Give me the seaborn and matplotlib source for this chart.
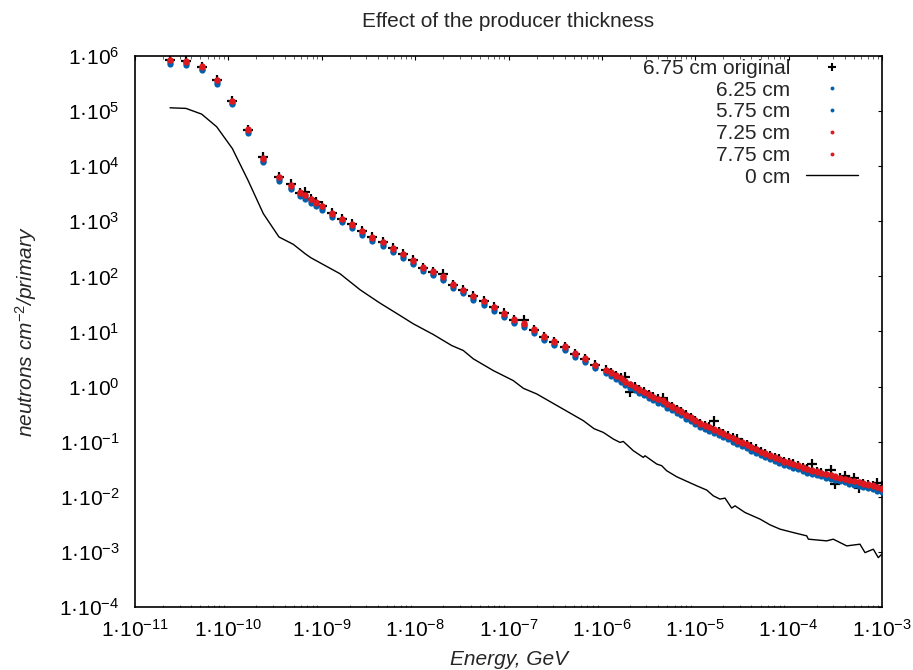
import numpy as np
import pandas as pd
import matplotlib
matplotlib.use("Agg")
import matplotlib.pyplot as plt
import seaborn as sns
from matplotlib.lines import Line2D
from matplotlib.ticker import FixedLocator, NullFormatter, FixedFormatter

sns.set_style("white")
plt.rcParams["font.family"] = ["Liberation Sans", "DejaVu Sans"]
plt.rcParams["mathtext.fontset"] = "custom"
plt.rcParams["mathtext.rm"] = "Liberation Sans"
plt.rcParams["mathtext.it"] = "Liberation Sans:italic"
plt.rcParams["mathtext.bf"] = "Liberation Sans:bold"

# ---------------- data (log10 of values) ----------------
log_energy = [
    -10.625, -10.454, -10.286, -10.125, -9.958, -9.790, -9.626, -9.458, -9.329, -9.233,
    -9.179, -9.118, -9.062, -9.001, -8.893, -8.780, -8.673, -8.566, -8.459, -8.347,
    -8.240, -8.133, -8.026, -7.919, -7.812, -7.705, -7.591, -7.484, -7.377, -7.262,
    -7.155, -7.048, -6.938, -6.831, -6.724, -6.617, -6.509, -6.395, -6.288, -6.181,
    -6.070, -5.959,
    -5.90, -5.85, -5.80, -5.75, -5.70, -5.65, -5.60, -5.55, -5.50, -5.45,
    -5.40, -5.35, -5.30, -5.25, -5.20, -5.15, -5.10, -5.05, -5.00, -4.95,
    -4.90, -4.85, -4.80, -4.75, -4.70, -4.65, -4.60, -4.55, -4.50, -4.45,
    -4.40, -4.35, -4.30, -4.25, -4.20, -4.15, -4.10, -4.05, -4.00, -3.95,
    -3.90, -3.85, -3.80, -3.75, -3.70, -3.65, -3.60, -3.55, -3.50, -3.45,
    -3.40, -3.35, -3.30, -3.25, -3.20, -3.15, -3.10, -3.05, -3.00,
]

log_flux_675_original = [
    5.93, 5.91, 5.80, 5.57, 5.19, 4.66, 4.17, 3.80, 3.68, 3.52,
    3.53, 3.40, 3.35, 3.27, 3.15, 3.04, 2.95, 2.82, 2.71, 2.62,
    2.51, 2.40, 2.29, 2.16, 2.08, 2.04, 1.85, 1.75, 1.64, 1.56,
    1.44, 1.33, 1.21, 1.21, 1.03, 0.90, 0.81, 0.72, 0.60, 0.50,
    0.40, 0.30,
    0.25, 0.20, 0.15, 0.17, -0.09, -0.01, -0.06, -0.10, -0.15, -0.19,
    -0.23, -0.21, -0.32, -0.37, -0.42, -0.46, -0.52, -0.57, -0.62, -0.67,
    -0.71, -0.74, -0.63, -0.82, -0.86, -0.90, -0.94, -0.95, -1.02, -1.06,
    -1.10, -1.14, -1.19, -1.22, -1.26, -1.29, -1.32, -1.36, -1.38, -1.41,
    -1.44, -1.47, -1.50, -1.41, -1.55, -1.57, -1.59, -1.52, -1.76, -1.66,
    -1.63, -1.70, -1.66, -1.84, -1.76, -1.78, -1.80, -1.75, -1.80,
]

log_flux_625 = [
    5.89, 5.87, 5.77, 5.53, 5.15, 4.63, 4.10, 3.77, 3.61, 3.49,
    3.44, 3.37, 3.31, 3.24, 3.11, 3.01, 2.91, 2.79, 2.67, 2.59,
    2.47, 2.37, 2.25, 2.13, 2.05, 1.96, 1.82, 1.72, 1.61, 1.52,
    1.41, 1.29, 1.18, 1.11, 1.00, 0.87, 0.78, 0.69, 0.57, 0.47,
    0.36, 0.27,
    0.22, 0.17, 0.12, 0.06, 0.01, -0.04, -0.09, -0.13, -0.18, -0.22,
    -0.26, -0.29, -0.35, -0.40, -0.45, -0.49, -0.55, -0.60, -0.65, -0.70,
    -0.74, -0.77, -0.81, -0.85, -0.89, -0.93, -0.97, -1.01, -1.05, -1.09,
    -1.13, -1.17, -1.22, -1.25, -1.29, -1.32, -1.35, -1.39, -1.41, -1.44,
    -1.47, -1.50, -1.53, -1.56, -1.58, -1.60, -1.62, -1.64, -1.67, -1.69,
    -1.71, -1.73, -1.75, -1.77, -1.79, -1.81, -1.83, -1.86, -1.88,
]

log_flux_575 = [
    5.86, 5.84, 5.74, 5.50, 5.12, 4.60, 4.07, 3.74, 3.58, 3.46,
    3.41, 3.34, 3.28, 3.21, 3.08, 2.98, 2.88, 2.76, 2.64, 2.56,
    2.44, 2.34, 2.22, 2.10, 2.02, 1.93, 1.79, 1.69, 1.58, 1.49,
    1.38, 1.26, 1.15, 1.08, 0.97, 0.84, 0.75, 0.66, 0.54, 0.44,
    0.33, 0.24,
    0.19, 0.14, 0.09, 0.03, -0.02, -0.07, -0.12, -0.16, -0.21, -0.25,
    -0.29, -0.32, -0.38, -0.43, -0.48, -0.52, -0.58, -0.63, -0.68, -0.73,
    -0.77, -0.80, -0.84, -0.88, -0.92, -0.96, -1.00, -1.04, -1.08, -1.12,
    -1.16, -1.20, -1.25, -1.28, -1.32, -1.35, -1.38, -1.42, -1.44, -1.47,
    -1.50, -1.53, -1.56, -1.59, -1.61, -1.63, -1.65, -1.67, -1.70, -1.72,
    -1.74, -1.76, -1.78, -1.80, -1.82, -1.84, -1.86, -1.89, -1.91,
]

log_flux_725 = [
    5.92, 5.90, 5.80, 5.56, 5.18, 4.66, 4.13, 3.80, 3.64, 3.52,
    3.47, 3.40, 3.34, 3.27, 3.14, 3.04, 2.94, 2.82, 2.70, 2.62,
    2.50, 2.40, 2.28, 2.16, 2.08, 1.99, 1.85, 1.75, 1.64, 1.55,
    1.44, 1.32, 1.21, 1.14, 1.03, 0.90, 0.81, 0.72, 0.60, 0.50,
    0.39, 0.30,
    0.25, 0.20, 0.15, 0.09, 0.04, -0.01, -0.06, -0.10, -0.15, -0.19,
    -0.23, -0.26, -0.32, -0.37, -0.42, -0.46, -0.52, -0.57, -0.62, -0.67,
    -0.71, -0.74, -0.78, -0.82, -0.86, -0.90, -0.94, -0.98, -1.02, -1.06,
    -1.10, -1.14, -1.19, -1.22, -1.26, -1.29, -1.32, -1.36, -1.38, -1.41,
    -1.44, -1.47, -1.50, -1.53, -1.55, -1.57, -1.59, -1.61, -1.64, -1.66,
    -1.68, -1.70, -1.72, -1.74, -1.76, -1.78, -1.80, -1.83, -1.85,
]

log_flux_775 = [
    5.93, 5.91, 5.81, 5.57, 5.19, 4.67, 4.14, 3.81, 3.65, 3.53,
    3.48, 3.41, 3.35, 3.28, 3.15, 3.05, 2.95, 2.83, 2.71, 2.63,
    2.51, 2.41, 2.29, 2.17, 2.09, 2.00, 1.86, 1.76, 1.65, 1.56,
    1.45, 1.33, 1.22, 1.15, 1.04, 0.91, 0.82, 0.73, 0.61, 0.51,
    0.40, 0.31,
    0.26, 0.21, 0.16, 0.10, 0.05, 0.00, -0.05, -0.09, -0.14, -0.18,
    -0.22, -0.25, -0.31, -0.36, -0.41, -0.45, -0.51, -0.56, -0.61, -0.66,
    -0.70, -0.73, -0.77, -0.81, -0.85, -0.89, -0.93, -0.97, -1.01, -1.05,
    -1.09, -1.13, -1.18, -1.21, -1.25, -1.28, -1.31, -1.35, -1.37, -1.40,
    -1.43, -1.46, -1.49, -1.52, -1.54, -1.56, -1.58, -1.60, -1.63, -1.65,
    -1.67, -1.69, -1.71, -1.73, -1.75, -1.77, -1.79, -1.82, -1.84,
]

log_energy_0cm = [
    -10.625, -10.454, -10.286, -10.125, -9.958, -9.790, -9.626, -9.458, -9.305, -9.179,
    -9.118, -9.001, -8.805, -8.590, -8.483, -8.376, -8.162, -8.020, -7.805, -7.608,
    -7.484, -7.377, -7.163, -6.949, -6.841, -6.698, -6.448, -6.199, -6.084, -5.985,
    -5.878, -5.806, -5.771, -5.663, -5.556, -5.538, -5.413, -5.359, -5.306, -5.199,
    -4.985, -4.877, -4.807, -4.735, -4.681, -4.610, -4.574, -4.467, -4.306, -4.199,
    -4.092, -3.950, -3.806, -3.789, -3.592, -3.522, -3.378, -3.236, -3.182, -3.093,
    -3.040, -3.003,
]
log_flux_0cm = [
    5.060, 5.049, 4.945, 4.715, 4.322, 3.745, 3.140, 2.715, 2.582, 2.413,
    2.340, 2.231, 2.049, 1.758, 1.636, 1.515, 1.291, 1.140, 0.945, 0.745,
    0.655, 0.504, 0.291, 0.109, -0.031, -0.133, -0.376, -0.618, -0.764, -0.831,
    -0.951, -1.013, -0.995, -1.164, -1.285, -1.255, -1.405, -1.436, -1.527, -1.636,
    -1.800, -1.878, -1.982, -2.042, -2.024, -2.205, -2.164, -2.285, -2.405, -2.509,
    -2.587, -2.649, -2.709, -2.769, -2.800, -2.769, -2.891, -2.860, -3.013, -2.951,
    -3.104, -3.042,
]

series_labels = ["6.75 cm original", "6.25 cm", "5.75 cm", "7.25 cm", "7.75 cm", "0 cm"]
x_tick_exponents = [-11, -10, -9, -8, -7, -6, -5, -4, -3]
y_tick_exponents = [-4, -3, -2, -1, 0, 1, 2, 3, 4, 5, 6]

BLUE = "#0060ad"
RED = "#dd181f"
FS = 15

df = pd.DataFrame({
    "energy": 10.0 ** np.array(log_energy),
    "orig": 10.0 ** np.array(log_flux_675_original),
    "t625": 10.0 ** np.array(log_flux_625),
    "t575": 10.0 ** np.array(log_flux_575),
    "t725": 10.0 ** np.array(log_flux_725),
    "t775": 10.0 ** np.array(log_flux_775),
})
df0 = pd.DataFrame({"energy": 10.0 ** np.array(log_energy_0cm),
                    "flux": 10.0 ** np.array(log_flux_0cm)})

fig = plt.figure(figsize=(9.13, 6.70), dpi=100)
ax = fig.add_axes([135 / 913, 1 - 607 / 670, 747 / 913, 551 / 670])

sns.scatterplot(data=df, x="energy", y="orig", marker="+", color="black",
                s=60, linewidth=1.6, ax=ax, legend=False, zorder=3)
for col, c in [("t625", BLUE), ("t575", BLUE), ("t725", RED), ("t775", RED)]:
    sns.scatterplot(data=df, x="energy", y=col, marker="o", color=c,
                    s=20, linewidth=0, ax=ax, legend=False, zorder=3)
sns.lineplot(data=df0, x="energy", y="flux", color="black", linewidth=1.0,
             sort=False, estimator=None, ax=ax, legend=False, zorder=4)

ax.set_xscale("log")
ax.set_yscale("log")
ax.set_xlim(1e-11, 1e-3)
ax.set_ylim(1e-4, 1e6)

xt = [10.0 ** e for e in x_tick_exponents]
yt = [10.0 ** e for e in y_tick_exponents]
ax.xaxis.set_major_locator(FixedLocator(xt))
ax.yaxis.set_major_locator(FixedLocator(yt))
ax.xaxis.set_major_formatter(FixedFormatter([f"1·10$^{{{e}}}$" for e in x_tick_exponents]))
ax.yaxis.set_major_formatter(FixedFormatter([f"1·10$^{{{e}}}$" for e in y_tick_exponents]))
minor = [m * 10.0 ** e for e in x_tick_exponents[:-1] for m in range(2, 10)]
ax.xaxis.set_minor_locator(FixedLocator(minor))
ax.xaxis.set_minor_formatter(NullFormatter())
ax.yaxis.set_minor_locator(FixedLocator([]))

ax.tick_params(which="major", direction="in", length=3, width=0.8,
               top=True, right=True, labelsize=FS, colors="black")
ax.tick_params(axis="x", which="major", pad=8.5)
ax.tick_params(axis="y", which="major", pad=11)
ax.tick_params(which="minor", direction="in", length=1.8, width=0.5,
               top=True, bottom=True)
for sp in ax.spines.values():
    sp.set_visible(True)
    sp.set_color("black")
    sp.set_linewidth(1.2)

ax.set_title("Effect of the producer thickness", fontsize=FS, pad=21)
ax.set_xlabel("Energy, GeV", fontsize=FS, fontstyle="italic", labelpad=7)
ax.set_ylabel("neutrons cm$^{-2}$/primary", fontsize=FS, fontstyle="italic", labelpad=15)

handles = [
    Line2D([], [], ls="none", marker="+", color="black", ms=6, mew=1.5),
    Line2D([], [], ls="none", marker="o", color=BLUE, ms=2.8, mew=0),
    Line2D([], [], ls="none", marker="o", color=BLUE, ms=2.8, mew=0),
    Line2D([], [], ls="none", marker="o", color=RED, ms=2.8, mew=0),
    Line2D([], [], ls="none", marker="o", color=RED, ms=2.8, mew=0),
    Line2D([], [], color="black", lw=1.0),
]
ax.legend(handles, series_labels, loc="upper right",
          bbox_to_anchor=((858 - 135) / 747, 1 - 3 / 551),
          markerfirst=False, frameon=False, fontsize=FS,
          handlelength=2.5, handletextpad=0.75, labelspacing=0.13,
          borderpad=0, borderaxespad=0)

fig.savefig("out.png", dpi=100)
